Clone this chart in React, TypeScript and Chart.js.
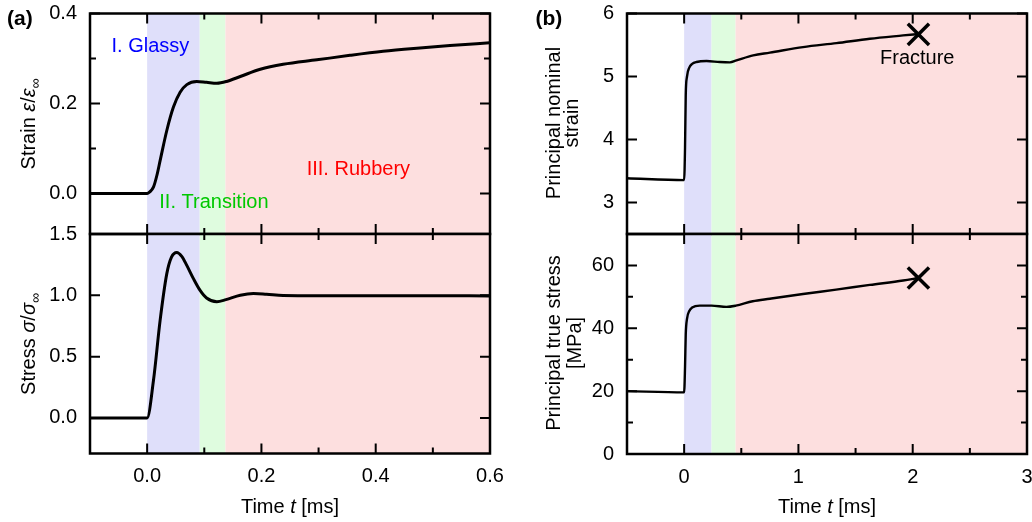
import React, { useEffect, useRef } from 'react';
import { Chart, registerables } from 'chart.js';

Chart.register(...registerables);

const FONT = "'Liberation Sans', Arial, Helvetica, sans-serif";

// ---------------- data ----------------
const strainTime = [-0.1, 0.0, 0.004, 0.011, 0.017, 0.0227, 0.0344, 0.046, 0.0577, 0.0694, 0.0869, 0.104, 0.122, 0.139, 0.163, 0.198, 0.238, 0.297, 0.355, 0.413, 0.472, 0.53, 0.6];
const strainValues = [0, 0, 0.003, 0.014, 0.04, 0.073, 0.14, 0.192, 0.225, 0.242, 0.249, 0.247, 0.245, 0.249, 0.26, 0.276, 0.287, 0.297, 0.307, 0.316, 0.323, 0.329, 0.335];

const stressTime = [-0.1, 0.0, 0.0111, 0.0227, 0.0344, 0.0426, 0.0519, 0.0606, 0.0694, 0.081, 0.0927, 0.104, 0.122, 0.138, 0.163, 0.186, 0.209, 0.238, 0.3, 0.4, 0.5, 0.6];
const stressValues = [0, 0, 0.307, 0.796, 1.177, 1.312, 1.35, 1.318, 1.244, 1.136, 1.04, 0.978, 0.948, 0.965, 1.0, 1.014, 1.008, 0.998, 0.996, 0.996, 0.996, 0.995];

const nominalTime = [-0.5, 0.0, 0.008, 0.014, 0.025, 0.045, 0.07, 0.108, 0.196, 0.312, 0.4, 0.458, 0.604, 0.75, 1.04, 1.333, 1.625, 1.916, 2.05];
const nominalValues = [3.385, 3.355, 3.9, 4.7, 5.0, 5.14, 5.2, 5.23, 5.245, 5.23, 5.225, 5.256, 5.335, 5.378, 5.467, 5.53, 5.6, 5.652, 5.675];

const trueTime = [-0.5, 0.0, 0.008, 0.014, 0.025, 0.045, 0.07, 0.137, 0.24, 0.37, 0.452, 0.6, 0.75, 1.04, 1.33, 1.625, 1.916, 2.05];
const trueValues = [20.0, 19.6, 28, 38, 43, 45.5, 46.6, 47.2, 47.2, 46.8, 47.2, 48.6, 49.4, 50.9, 52.3, 53.8, 55.2, 56.0];

const fractureTime = [2.05];
const fractureNominal = [5.67];
const fractureTrue = [56];

const leftRegionEdges = [0, 0.092, 0.137, 0.6];
const rightRegionEdges = [0, 0.24, 0.45, 3];
const regionNames = ['I. Glassy', 'II. Transition', 'III. Rubbery'];

const leftTimeTicks = [0, 0.2, 0.4, 0.6];
const leftTimeMinor = [0.1, 0.3, 0.5];
const strainTicks = [0, 0.2, 0.4];
const strainMinor = [0.1, 0.3];
const stressTicks = [0, 0.5, 1.0, 1.5];
const stressMinor: number[] = [];
const rightTimeTicks = [0, 1, 2, 3];
const rightTimeMinor = [0.5, 1.5, 2.5];
const nominalTicks = [3, 4, 5, 6];
const nominalMinor: number[] = [];
const trueTicks = [0, 20, 40, 60];
const trueMinor = [10, 30, 50];

const REGION_FILL = ['rgb(223,223,250)', 'rgb(223,252,223)', 'rgb(253,223,223)'];
const REGION_TEXT = ['rgb(0,0,255)', 'rgb(0,200,0)', 'rgb(255,0,0)'];

// ---------------- helpers ----------------
type Part = { t: string; i?: boolean; sub?: boolean };
type Label = {
  parts: Part[];
  x: number;
  y: number;
  color?: string;
  rot?: boolean;
  align?: 'left' | 'center';
  bold?: boolean;
  size?: number;
};

type Spec = {
  box: { left: number; top: number; width: number; height: number };
  area: { left: number; top: number; right: number; bottom: number };
  xMin: number; xMax: number; yMin: number; yMax: number;
  xTicks: number[]; xMinor: number[]; yTicks: number[]; yMinor: number[];
  showX: boolean; xDigits: number; yDigits: number;
  seriesX: number[]; seriesY: number[]; lineWidth: number;
  markerX?: number[]; markerY?: number[];
  regions: number[];
  labels: Label[];
};

function drawParts(ctx: CanvasRenderingContext2D, lab: Label, ox: number, oy: number) {
  const size = lab.size || 20;
  const fontFor = (p: Part) =>
    `${p.i ? 'italic ' : ''}${lab.bold ? 'bold ' : ''}${p.sub ? Math.round(size * 0.7) : size}px ${FONT}`;
  ctx.save();
  ctx.translate(lab.x - ox, lab.y - oy);
  if (lab.rot) ctx.rotate(-Math.PI / 2);
  ctx.textBaseline = 'alphabetic';
  ctx.textAlign = 'left';
  ctx.fillStyle = lab.color || '#000';
  const widths = lab.parts.map((p) => {
    ctx.font = fontFor(p);
    return ctx.measureText(p.t).width;
  });
  const total = widths.reduce((a, b) => a + b, 0);
  let cx = lab.align === 'center' ? -total / 2 : 0;
  lab.parts.forEach((p, i) => {
    ctx.font = fontFor(p);
    ctx.fillText(p.t, cx, p.sub ? 5 : 0);
    cx += widths[i];
  });
  ctx.restore();
}

function buildConfig(spec: Spec): any {
  const { box, area } = spec;
  const yAxisW = area.left - box.left;
  const xAxisH = spec.showX ? box.top + box.height - area.bottom : 0;
  const datasets: any[] = [
    {
      data: spec.seriesX.map((x, i) => ({ x, y: spec.seriesY[i] })),
      borderColor: '#000',
      borderWidth: spec.lineWidth,
      pointRadius: 0,
      cubicInterpolationMode: 'monotone',
      fill: false,
      borderJoinStyle: 'round',
    },
  ];
  if (spec.markerX && spec.markerY) {
    datasets.push({
      data: spec.markerX.map((x, i) => ({ x, y: spec.markerY![i] })),
      showLine: false,
      pointStyle: 'crossRot',
      pointRadius: 15,
      pointBorderWidth: 3.5,
      pointBorderColor: '#000',
      pointBackgroundColor: 'transparent',
      borderColor: '#000',
      clip: false,
    });
  }

  const decor = {
    id: 'decor',
    beforeDatasetsDraw(chart: any) {
      const { ctx, chartArea: ca, scales } = chart;
      const xs = scales.x;
      ctx.save();
      for (let i = 0; i < spec.regions.length - 1; i++) {
        const x0 = xs.getPixelForValue(spec.regions[i]);
        const x1 = xs.getPixelForValue(spec.regions[i + 1]);
        ctx.fillStyle = REGION_FILL[i];
        ctx.fillRect(x0, ca.top, x1 - x0, ca.bottom - ca.top);
      }
      ctx.restore();
    },
    afterDatasetsDraw(chart: any) {
      const { ctx, chartArea: ca, scales } = chart;
      const xs = scales.x;
      const ys = scales.y;
      ctx.save();
      ctx.strokeStyle = '#000';
      ctx.lineWidth = 2;
      const xMark = (vals: number[], len: number) => {
        vals.forEach((v) => {
          const p = xs.getPixelForValue(v);
          ctx.beginPath();
          ctx.moveTo(p, ca.bottom);
          ctx.lineTo(p, ca.bottom - len);
          ctx.moveTo(p, ca.top);
          ctx.lineTo(p, ca.top + len);
          ctx.stroke();
        });
      };
      const yMark = (vals: number[], len: number) => {
        vals.forEach((v) => {
          const p = ys.getPixelForValue(v);
          ctx.beginPath();
          ctx.moveTo(ca.left, p);
          ctx.lineTo(ca.left + len, p);
          ctx.moveTo(ca.right, p);
          ctx.lineTo(ca.right - len, p);
          ctx.stroke();
        });
      };
      xMark(spec.xTicks, 10);
      xMark(spec.xMinor, 6);
      yMark(spec.yTicks, 10);
      yMark(spec.yMinor, 6);
      ctx.lineWidth = 2.5;
      ctx.strokeRect(ca.left, ca.top, ca.right - ca.left, ca.bottom - ca.top);
      ctx.restore();
    },
    afterDraw(chart: any) {
      const { ctx } = chart;
      spec.labels.forEach((lab) => drawParts(ctx, lab, box.left, box.top));
    },
  };

  return {
    type: 'line',
    data: { datasets },
    plugins: [decor],
    options: {
      responsive: false,
      animation: false,
      devicePixelRatio: 1,
      events: [],
      layout: {
        padding: {
          left: 0,
          top: area.top - box.top,
          right: box.left + box.width - area.right,
          bottom: spec.showX ? 0 : box.top + box.height - area.bottom,
        },
      },
      plugins: { legend: { display: false }, tooltip: { enabled: false } },
      scales: {
        x: {
          type: 'linear',
          min: spec.xMin,
          max: spec.xMax,
          display: spec.showX,
          afterBuildTicks: (s: any) => {
            s.ticks = spec.xTicks.map((v) => ({ value: v }));
          },
          afterFit: (s: any) => {
            s.height = xAxisH;
          },
          grid: { display: false, drawTicks: false },
          border: { display: false },
          title: { display: false },
          ticks: {
            autoSkip: false,
            maxRotation: 0,
            minRotation: 0,
            padding: 11,
            color: '#000',
            font: { family: FONT, size: 20 },
            callback: (v: any) => Number(v).toFixed(spec.xDigits),
          },
        },
        y: {
          type: 'linear',
          min: spec.yMin,
          max: spec.yMax,
          afterBuildTicks: (s: any) => {
            s.ticks = spec.yTicks.map((v) => ({ value: v }));
          },
          afterFit: (s: any) => {
            s.width = yAxisW;
          },
          grid: { display: false, drawTicks: false },
          border: { display: false },
          title: { display: false },
          ticks: {
            autoSkip: false,
            padding: 13,
            color: '#000',
            font: { family: FONT, size: 20 },
            callback: (v: any) => Number(v).toFixed(spec.yDigits),
          },
        },
      },
    },
  };
}

const timeTitle = (x: number): Label => ({
  parts: [{ t: 'Time ' }, { t: 't', i: true }, { t: ' [ms]' }],
  x,
  y: 513,
  align: 'center',
});

const specs: Spec[] = [
  {
    box: { left: 0, top: -30, width: 540, height: 300 },
    area: { left: 90, top: 13.5, right: 490, bottom: 234 },
    xMin: -0.1, xMax: 0.6, yMin: -0.09, yMax: 0.4,
    xTicks: leftTimeTicks, xMinor: leftTimeMinor, yTicks: strainTicks, yMinor: strainMinor,
    showX: false, xDigits: 1, yDigits: 1,
    seriesX: strainTime, seriesY: strainValues, lineWidth: 3,
    regions: leftRegionEdges,
    labels: [
      { parts: [{ t: '(a)' }], x: 7, y: 25, bold: true, size: 21 },
      {
        parts: [{ t: 'Strain ' }, { t: 'ε', i: true }, { t: '/' }, { t: 'ε', i: true }, { t: '∞', sub: true }],
        x: 35, y: 124, rot: true, align: 'center',
      },
      { parts: [{ t: regionNames[0] }], x: 111.5, y: 51.5, color: REGION_TEXT[0] },
      { parts: [{ t: regionNames[1] }], x: 159.3, y: 208.3, color: REGION_TEXT[1] },
      { parts: [{ t: regionNames[2] }], x: 306.7, y: 175, color: REGION_TEXT[2] },
    ],
  },
  {
    box: { left: 0, top: 194, width: 540, height: 328 },
    area: { left: 90, top: 234, right: 490, bottom: 453.5 },
    xMin: -0.1, xMax: 0.6, yMin: -0.29, yMax: 1.5,
    xTicks: leftTimeTicks, xMinor: leftTimeMinor, yTicks: stressTicks, yMinor: stressMinor,
    showX: true, xDigits: 1, yDigits: 1,
    seriesX: stressTime, seriesY: stressValues, lineWidth: 3,
    regions: leftRegionEdges,
    labels: [
      {
        parts: [{ t: 'Stress ' }, { t: 'σ', i: true }, { t: '/' }, { t: 'σ', i: true }, { t: '∞', sub: true }],
        x: 35, y: 344, rot: true, align: 'center',
      },
      timeTitle(290),
    ],
  },
  {
    box: { left: 520, top: -30, width: 540, height: 300 },
    area: { left: 627, top: 13.5, right: 1027, bottom: 234 },
    xMin: -0.5, xMax: 3, yMin: 2.5, yMax: 6,
    xTicks: rightTimeTicks, xMinor: rightTimeMinor, yTicks: nominalTicks, yMinor: nominalMinor,
    showX: false, xDigits: 0, yDigits: 0,
    seriesX: nominalTime, seriesY: nominalValues, lineWidth: 2.4,
    markerX: fractureTime, markerY: fractureNominal,
    regions: rightRegionEdges,
    labels: [
      { parts: [{ t: '(b)' }], x: 535.5, y: 25, bold: true, size: 21 },
      { parts: [{ t: 'Principal nominal' }], x: 559.5, y: 123, rot: true, align: 'center' },
      { parts: [{ t: 'strain' }], x: 578, y: 123, rot: true, align: 'center' },
      { parts: [{ t: 'Fracture' }], x: 880, y: 63.7 },
    ],
  },
  {
    box: { left: 520, top: 194, width: 540, height: 328 },
    area: { left: 627, top: 234, right: 1027, bottom: 454 },
    xMin: -0.5, xMax: 3, yMin: 0, yMax: 70,
    xTicks: rightTimeTicks, xMinor: rightTimeMinor, yTicks: trueTicks, yMinor: trueMinor,
    showX: true, xDigits: 0, yDigits: 0,
    seriesX: trueTime, seriesY: trueValues, lineWidth: 2.4,
    markerX: fractureTime, markerY: fractureTrue,
    regions: rightRegionEdges,
    labels: [
      { parts: [{ t: 'Principal true stress' }], x: 559.5, y: 343, rot: true, align: 'center' },
      { parts: [{ t: '[MPa]' }], x: 581, y: 343, rot: true, align: 'center' },
      timeTitle(827),
    ],
  },
];

function Panel({ spec }: { spec: Spec }) {
  const ref = useRef<HTMLCanvasElement>(null);
  useEffect(() => {
    const chart = new Chart(ref.current as HTMLCanvasElement, buildConfig(spec));
    return () => chart.destroy();
  }, [spec]);
  return (
    <canvas
      ref={ref}
      width={spec.box.width}
      height={spec.box.height}
      style={{
        position: 'absolute',
        left: spec.box.left,
        top: spec.box.top,
        width: spec.box.width,
        height: spec.box.height,
      }}
    />
  );
}

export default function App() {
  return (
    <div
      style={{
        position: 'absolute',
        left: 0,
        top: 0,
        width: 1032,
        height: 522,
        overflow: 'hidden',
        background: '#fff',
      }}
    >
      {specs.map((s, i) => (
        <Panel key={i} spec={s} />
      ))}
    </div>
  );
}
